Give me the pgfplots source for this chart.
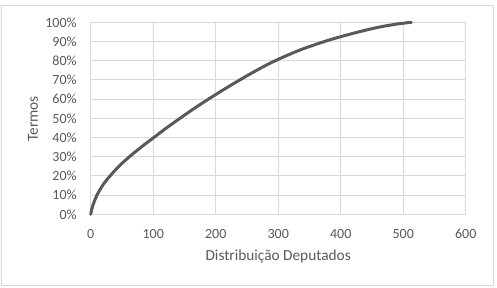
\documentclass[border=0pt]{standalone}
\usepackage{pgfplots}
\pgfplotsset{compat=1.18}
\usepackage{fontspec}
\setmainfont{Carlito}
\definecolor{txt}{HTML}{595959}
\definecolor{gridc}{HTML}{D9D9D9}
\definecolor{linec}{HTML}{595959}
\begin{document}
\begin{tikzpicture}[x=0.75pt,y=0.75pt]
\begin{axis}[
  at={(0,0)}, anchor=south west,
  scale only axis, width=281.25pt, height=144pt,
  xmin=0, xmax=600, ymin=0, ymax=100,
  xtick={0,100,...,600}, ytick={0,10,...,100},
  grid=major, major grid style={draw=gridc, line width=0.75pt},
  axis line style={draw=none},
  major tick length=0pt,
  tick label style={font=\fontsize{10.5}{12}\selectfont, text=txt},
  /pgf/number format/assume math mode=true,
  yticklabel={\pgfmathprintnumber{\tick}\%},
  xticklabel style={anchor=north, yshift=-7.5pt},
  yticklabel style={anchor=east, xshift=-7pt},
  clip=false,
]
\addplot[linec, line width=2.25pt, line cap=round, smooth, tension=0.5] coordinates {
(0,0) (2,3) (5,6) (10,10) (20,15.5) (31,20) (46,25.3) (62,30) (80,34.8)
(101,40) (120,44.7) (142,49.8) (165,55) (188,59.9) (212,64.8) (237,69.7)
(265,74.9) (294,79.8) (335,85.6) (376,90.2) (400,92.5) (430,95.1) (460,97.4)
(490,99.1) (513,100)
};
\end{axis}
\node[font=\fontsize{11.5}{13}\selectfont, text=txt] at (187.5,-42.4) {Distribuição Deputados};
\node[font=\fontsize{11.5}{13}\selectfont, text=txt, rotate=90] at (-57.7,95.3) {Termos};
\draw[gridc, line width=0.75pt] (-89,-70.7) rectangle (402.6,209.3);
\pgfresetboundingbox
\path[use as bounding box] (-90.7,-72.7) rectangle (406.3,214.3);
\end{tikzpicture}
\end{document}
